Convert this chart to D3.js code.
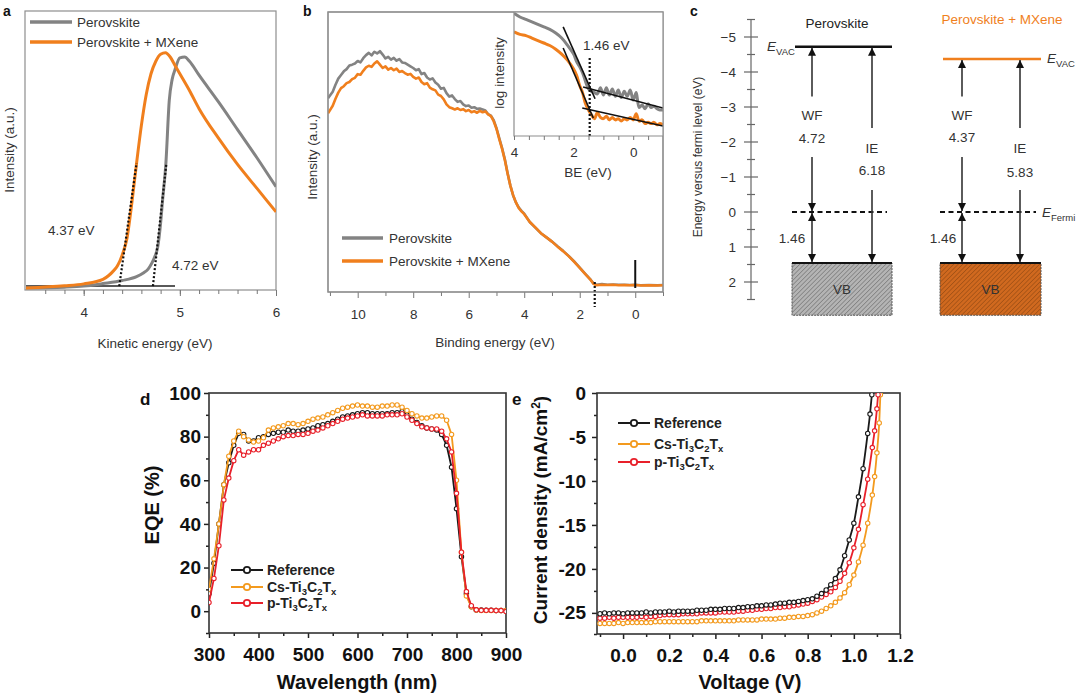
<!DOCTYPE html>
<html>
<head>
<meta charset="utf-8">
<script src="https://cdn.jsdelivr.net/npm/d3@7/dist/d3.min.js"></script>
<style>
html,body{margin:0;padding:0;background:#fff;}
svg{display:block;}
</style>
</head>
<body>
<svg id="fig" width="1080" height="697"></svg>
<script>
// ================= DATA =================
// Panel a : secondary electron cut-off  [kinetic energy (eV), intensity (a.u.)]
const aPerovskite = [[3.4,0.7],[3.8,1.0],[4.0,1.4],[4.2,2.3],[4.4,3.4],[4.55,4.8],[4.62,6.1],[4.67,7.5],[4.71,9.7],[4.74,12],[4.77,15.4],[4.80,24],[4.82,32],[4.855,45.5],[4.89,68],[4.92,75.5],[4.95,79],[5.0,83.2],[5.05,83.5],[5.1,82.0],[5.2,77],[5.4,67.5],[5.6,57.5],[5.8,47.5],[6.0,37]];
const aMXene = [[3.4,0.7],[3.8,1.5],[4.0,2.2],[4.2,3.8],[4.26,5.2],[4.30,6.5],[4.35,8.6],[4.40,12.5],[4.45,18.5],[4.50,31],[4.55,45.5],[4.60,59],[4.65,70],[4.70,77.5],[4.75,82],[4.80,84.5],[4.85,85],[4.90,83.5],[4.95,80.5],[5.0,77.5],[5.1,71.5],[5.2,65],[5.4,54.5],[5.6,45],[5.8,36.5],[6.0,28]];
const aBaseline = [[3.4,1.4],[4.95,1.4]];
const aTangentMX = [[4.37,1.4],[4.55,45.5]];
const aTangentPer = [[4.72,1.4],[4.86,45.5]];
const aTicks = [4,5,6];
const aLabels = ["4.37 eV","4.72 eV"];

// Panel b : valence band spectra  [binding energy (eV), intensity (a.u.)]
const bPerovskite = [[11.07,69.2],[10.9,71.5],[10.8,74.0],[10.7,76.2],[10.6,77.5],[10.5,78.8],[10.4,79.6],[10.3,80.9],[10.2,81.2],[10.1,81.6],[10.0,82.5],[9.9,82.0],[9.8,83.5],[9.7,84.6],[9.6,85.4],[9.5,84.5],[9.4,85.8],[9.3,85.2],[9.2,86.0],[9.1,84.8],[9.0,83.4],[8.9,84.0],[8.8,83.0],[8.7,83.6],[8.6,82.6],[8.5,83.2],[8.4,82.0],[8.3,81.8],[8.2,81.2],[8.1,80.6],[8.0,80.0],[7.9,79.2],[7.8,79.6],[7.7,77.8],[7.6,78.2],[7.5,76.6],[7.4,75.9],[7.3,76.3],[7.2,74.8],[7.1,74.0],[7.0,72.6],[6.9,72.9],[6.8,71.0],[6.7,69.8],[6.6,70.2],[6.5,68.9],[6.4,67.9],[6.3,68.2],[6.2,67.0],[6.1,66.4],[6.0,66.6],[5.9,65.8],[5.8,66.0],[5.7,65.4],[5.6,65.5],[5.5,65.2],[5.4,64.8],[5.3,63.5],[5.2,63.0],[5.1,61.4],[5.0,58.5],[4.9,55.0],[4.8,51.5],[4.7,47.5],[4.6,42.5],[4.5,38.0],[4.4,34.5],[4.3,32.0],[4.2,30.2],[4.1,29.0],[4.0,28.0],[3.8,25.0],[3.6,23.0],[3.4,21.0],[3.2,19.5],[3.0,18.0],[2.8,16.3],[2.6,14.7],[2.4,12.9],[2.2,10.9],[2.0,8.7],[1.8,6.5],[1.6,4.3],[1.5,3.0],[1.4,2.6],[1.2,2.8],[1.0,2.6],[0.8,2.7],[0.6,2.6],[0.4,2.6],[0.2,2.5],[0.0,2.6],[-0.2,2.4],[-0.5,2.5],[-0.8,2.4],[-1.0,2.5]];
const bMXene = [[11.07,63.8],[10.9,66.5],[10.8,69.0],[10.7,71.2],[10.6,72.8],[10.5,73.5],[10.4,74.6],[10.3,75.0],[10.2,76.0],[10.1,76.5],[10.0,77.8],[9.9,77.6],[9.8,79.0],[9.7,80.2],[9.6,80.8],[9.5,80.4],[9.4,81.6],[9.3,82.4],[9.2,81.2],[9.1,80.0],[9.0,80.6],[8.9,79.4],[8.8,80.0],[8.7,79.2],[8.6,79.8],[8.5,78.6],[8.4,78.9],[8.3,78.2],[8.2,77.6],[8.1,77.9],[8.0,76.8],[7.9,76.2],[7.8,76.6],[7.7,75.0],[7.6,74.2],[7.5,74.6],[7.4,73.0],[7.3,72.4],[7.2,72.0],[7.1,70.5],[7.0,70.0],[6.9,68.8],[6.8,67.0],[6.7,66.0],[6.6,65.6],[6.5,65.2],[6.4,65.6],[6.3,65.0],[6.2,65.3],[6.1,64.6],[6.0,65.0],[5.9,64.2],[5.8,64.6],[5.7,64.0],[5.6,64.7],[5.5,64.2],[5.4,64.5],[5.3,63.4],[5.2,62.8],[5.1,61.0],[5.0,58.3],[4.9,54.6],[4.8,51.2],[4.7,47.2],[4.6,42.3],[4.5,38.0],[4.4,34.6],[4.3,32.0],[4.2,30.0],[4.1,28.8],[4.0,27.8],[3.8,25.0],[3.6,23.1],[3.4,21.0],[3.2,19.5],[3.0,18.0],[2.8,16.2],[2.6,14.6],[2.4,12.8],[2.2,10.8],[2.0,8.6],[1.8,6.4],[1.6,4.2],[1.5,2.9],[1.4,2.4],[1.2,2.6],[1.0,2.5],[0.8,2.6],[0.6,2.4],[0.4,2.5],[0.2,2.4],[0.0,2.5],[-0.2,2.3],[-0.5,2.4],[-0.8,2.3],[-1.0,2.4]];
const bTicks = [10,8,6,4,2,0];
const bVBM = 1.46;
// inset : [BE (eV), log intensity (a.u.)]
const insPerovskite = [[4.0,9.9],[3.8,9.6],[3.6,9.4],[3.4,9.2],[3.2,9.0],[3.0,8.8],[2.8,8.6],[2.6,8.3],[2.4,7.9],[2.2,7.3],[2.0,6.6],[1.9,6.0],[1.8,5.6],[1.7,5.1],[1.6,4.4],[1.5,3.8],[1.4,3.6],[1.3,3.5],[1.2,3.4],[1.1,3.9],[1.0,3.3],[0.9,3.9],[0.8,3.3],[0.7,3.8],[0.6,3.2],[0.5,3.7],[0.4,3.1],[0.3,3.6],[0.2,3.2],[0.1,3.7],[0.0,2.9],[-0.1,3.5],[-0.2,2.3],[-0.3,2.5],[-0.4,2.2],[-0.5,2.6],[-0.6,2.3],[-0.7,2.4],[-0.8,2.2],[-0.9,2.1],[-1.0,2.1]];
const insMXene = [[4.0,8.4],[3.8,8.2],[3.6,8.1],[3.4,7.9],[3.2,7.7],[3.0,7.5],[2.8,7.3],[2.6,7.0],[2.4,6.6],[2.2,6.1],[2.0,5.4],[1.9,4.9],[1.8,4.1],[1.7,3.5],[1.6,2.6],[1.5,2.1],[1.4,1.7],[1.3,1.4],[1.2,1.9],[1.1,1.5],[1.0,1.4],[0.9,1.6],[0.8,1.3],[0.7,1.5],[0.6,1.3],[0.5,1.4],[0.4,1.2],[0.3,1.4],[0.2,1.3],[0.1,1.5],[0.0,1.3],[-0.1,1.8],[-0.2,1.2],[-0.3,1.3],[-0.4,1.0],[-0.5,1.1],[-0.6,1.0],[-0.7,1.1],[-0.8,0.9],[-0.9,1.0],[-1.0,0.9]];
const insFits = [[[2.35,8.8],[1.28,3.0]],[[1.68,3.95],[-1.0,2.26]],[[2.35,7.1],[1.34,1.45]],[[1.71,2.26],[-1.0,0.81]]];
const insTicks = [4,2,0];

// Panel c : energy level diagram
const cSamples = ["Perovskite","Perovskite + MXene"];
const cWF = [4.72, 4.37];
const cIE = [6.18, 5.83];
const cVBM = [1.46, 1.46];
const cVBbottom = 2.95;
const cTicks = [-5,-4,-3,-2,-1,0,1,2];

// Panel d : EQE
const wavelength = [300,310,320,330,340,350,360,370,380,390,400,410,420,430,440,450,460,470,480,490,500,510,520,530,540,550,560,570,580,590,600,610,620,630,640,650,660,670,680,690,700,710,720,730,740,750,760,770,780,790,800,810,820,830,840,850,860,870,880,890,900];
const eqeReference = [8,22,40,58,68,76,81.5,81,78,78,79.5,80,81,81.5,82,82,83,82.5,82.5,83,83.5,84,85,85.5,86,87,88,89,89.5,90,90.5,91,91,90.5,90.5,90.5,90.5,91,91,91.5,90,88,86.5,85,84,83.5,83,81,76,66,47,25,8,2,0.5,0.5,0.4,0.4,0.3,0.3,0.2];
const eqeCs = [10,24,40,58,71,78,82.5,80,78.5,77.5,78,79.5,83,84,84.5,85,86,86,85.5,86,87,88,88.5,89,90,91,92,93,93.5,94,94.5,94,94,93.5,93.5,94,94,94.5,94.5,93.5,92,90.5,89.5,88.5,88.5,89,89.5,89.5,87.5,81,60,27,7,2,0.5,0.3,0.3,0.3,0.3,0.3,0.3];
const eqeP = [4,15,30,51,61,69,74,71.5,73,74,74,76,77,78,79,80,80.5,80.5,81,81,81.5,82.5,83,84,85,86,87,88,88.5,89,89.5,90,89.5,89.5,89.5,89.5,90,90,90,90.5,89,87.5,86,84.5,84,83.5,83.5,82.5,79,73,54,27,9,2.5,0.6,0.4,0.4,0.4,0.3,0.3,-0.2];
const dXTicks = [300,400,500,600,700,800,900];
const dYTicks = [0,20,40,60,80,100];

// Panel e : J-V curves  [voltage (V), current density (mA/cm2)]
const jvReference = [[-0.10,-25.1],[-0.08,-25.0],[-0.06,-25.1],[-0.04,-25.0],[-0.02,-25.0],[0.00,-25.1],[0.02,-25.0],[0.04,-25.0],[0.06,-25.0],[0.08,-25.0],[0.10,-24.9],[0.12,-25.0],[0.14,-24.9],[0.16,-24.9],[0.18,-24.9],[0.20,-24.8],[0.22,-24.9],[0.24,-24.8],[0.26,-24.8],[0.28,-24.8],[0.30,-24.8],[0.32,-24.7],[0.34,-24.7],[0.36,-24.7],[0.38,-24.6],[0.40,-24.6],[0.42,-24.6],[0.44,-24.5],[0.46,-24.5],[0.48,-24.5],[0.50,-24.4],[0.52,-24.4],[0.54,-24.3],[0.56,-24.3],[0.58,-24.2],[0.60,-24.2],[0.62,-24.1],[0.64,-24.1],[0.66,-24.0],[0.68,-23.9],[0.70,-23.9],[0.72,-23.8],[0.74,-23.8],[0.76,-23.7],[0.78,-23.6],[0.80,-23.5],[0.82,-23.4],[0.84,-23.1],[0.86,-22.8],[0.88,-22.4],[0.90,-21.8],[0.92,-21.1],[0.94,-20.1],[0.96,-18.5],[0.98,-16.7],[1.00,-14.8],[1.02,-11.8],[1.04,-8.6],[1.06,-4.6],[1.07,-2.4],[1.078,-0.2]];
const jvCs = [[-0.10,-26.2],[-0.08,-26.2],[-0.06,-26.2],[-0.04,-26.2],[-0.02,-26.1],[0.00,-26.2],[0.02,-26.1],[0.04,-26.1],[0.06,-26.1],[0.08,-26.1],[0.10,-26.1],[0.12,-26.1],[0.14,-26.0],[0.16,-26.0],[0.18,-26.0],[0.20,-26.0],[0.22,-26.0],[0.24,-26.0],[0.26,-26.0],[0.28,-26.0],[0.30,-26.0],[0.32,-26.0],[0.34,-25.9],[0.36,-25.9],[0.38,-25.9],[0.40,-25.9],[0.42,-25.9],[0.44,-25.9],[0.46,-25.9],[0.48,-25.9],[0.50,-25.8],[0.52,-25.8],[0.54,-25.8],[0.56,-25.8],[0.58,-25.8],[0.60,-25.7],[0.62,-25.7],[0.64,-25.7],[0.66,-25.7],[0.68,-25.6],[0.70,-25.6],[0.72,-25.5],[0.74,-25.5],[0.76,-25.4],[0.78,-25.4],[0.80,-25.3],[0.82,-25.2],[0.84,-25.0],[0.86,-24.8],[0.88,-24.5],[0.90,-24.2],[0.92,-23.8],[0.94,-23.3],[0.96,-22.7],[0.98,-21.8],[1.00,-20.7],[1.02,-19.2],[1.04,-17.3],[1.06,-14.8],[1.08,-11.6],[1.09,-9.5],[1.10,-6.8],[1.11,-3.4],[1.115,-0.2]];
const jvP = [[-0.10,-25.6],[-0.08,-25.6],[-0.06,-25.5],[-0.04,-25.6],[-0.02,-25.5],[0.00,-25.5],[0.02,-25.5],[0.04,-25.5],[0.06,-25.5],[0.08,-25.4],[0.10,-25.5],[0.12,-25.4],[0.14,-25.4],[0.16,-25.3],[0.18,-25.2],[0.20,-25.2],[0.22,-25.2],[0.24,-25.2],[0.26,-25.1],[0.28,-25.1],[0.30,-25.1],[0.32,-25.1],[0.34,-25.0],[0.36,-25.0],[0.38,-25.0],[0.40,-25.0],[0.42,-24.9],[0.44,-24.9],[0.46,-24.9],[0.48,-24.9],[0.50,-24.8],[0.52,-24.8],[0.54,-24.7],[0.56,-24.7],[0.58,-24.6],[0.60,-24.6],[0.62,-24.5],[0.64,-24.5],[0.66,-24.4],[0.68,-24.4],[0.70,-24.3],[0.72,-24.3],[0.74,-24.2],[0.76,-24.1],[0.78,-24.0],[0.80,-23.9],[0.82,-23.7],[0.84,-23.5],[0.86,-23.2],[0.88,-22.9],[0.90,-22.6],[0.92,-22.1],[0.94,-21.4],[0.96,-20.5],[0.98,-19.3],[1.00,-17.6],[1.02,-15.5],[1.04,-12.7],[1.06,-9.8],[1.08,-6.2],[1.09,-4.3],[1.10,-1.8],[1.105,-0.2]];
const eXTicks = [0.0,0.2,0.4,0.6,0.8,1.0,1.2];
const eYTicks = [0,-5,-10,-15,-20,-25];

// ================= STYLE =================
const F = '"Liberation Sans", Arial, Helvetica, sans-serif';
const TXT = "#333";
const GREY = "#838383";
const ORANGE = "#f07f1d";
const C_REF = "#1a1a1a", C_CS = "#f39a1e", C_P = "#e8202a";

const svg = d3.select("#fig");
const defs = svg.append("defs");

function txt(g, x, y, s, o = {}) {
  return g.append("text").attr("x", x).attr("y", y).text(s)
    .attr("font-family", F).attr("font-size", o.size || 13.5)
    .attr("font-weight", o.bold ? "bold" : "normal")
    .attr("fill", o.fill || TXT)
    .attr("text-anchor", o.anchor || "start");
}
function styleAxis(g, col, size, bold, tw) {
  g.select(".domain").remove();
  g.selectAll(".tick line").attr("stroke", col).attr("stroke-width", tw || 1);
  g.selectAll(".tick text").attr("font-family", F).attr("font-size", size)
    .attr("font-weight", bold ? "bold" : "normal").attr("fill", bold ? "#111" : TXT);
}
function clip(id, x0, y0, x1, y1) {
  defs.append("clipPath").attr("id", id).append("rect")
    .attr("x", x0).attr("y", y0).attr("width", x1 - x0).attr("height", y1 - y0);
}

// ================= PANEL a =================
{
  const x = d3.scaleLinear().domain([3.4, 6]).range([26, 276]);
  const y = d3.scaleLinear().domain([0, 100]).range([290, 11]);
  const g = svg.append("g");
  txt(g, 3, 16, "a", {bold: true, size: 14, fill: "#111"});
  g.append("rect").attr("x", x(3.4) - 1).attr("y", y(100)).attr("width", x(6) - x(3.4) + 1).attr("height", y(0) - y(100))
    .attr("fill", "none").attr("stroke", "#8e8e8e").attr("stroke-width", 1.2);
  g.append("g").attr("transform", `translate(0,${y(0)})`)
    .call(d3.axisBottom(x).tickValues(aTicks).tickFormat(d3.format("d")).tickSize(6).tickPadding(11).tickSizeOuter(0))
    .call(a => styleAxis(a, "#777", 13.5));
  g.append("g").attr("transform", `translate(0,${y(0)})`)
    .call(d3.axisBottom(x).tickValues(d3.range(3.6, 6, 0.2)).tickFormat("").tickSize(4).tickSizeOuter(0))
    .call(a => styleAxis(a, "#777", 12));
  clip("clipA", x(3.4), y(100), x(6), y(0));
  const line = d3.line().x(d => x(d[0])).y(d => y(d[1])).curve(d3.curveMonotoneX);
  const pg = g.append("g").attr("clip-path", "url(#clipA)");
  pg.append("path").datum(aBaseline).attr("d", d3.line().x(d => x(d[0])).y(d => y(d[1])))
    .attr("stroke", "#222").attr("stroke-width", 1.5).attr("fill", "none");
  pg.append("path").datum(aPerovskite).attr("d", line).attr("stroke", GREY).attr("stroke-width", 3).attr("fill", "none");
  pg.append("path").datum(aMXene).attr("d", line).attr("stroke", ORANGE).attr("stroke-width", 3).attr("fill", "none");
  [aTangentMX, aTangentPer].forEach(t => {
    pg.append("path").datum(t).attr("d", d3.line().x(d => x(d[0])).y(d => y(d[1])))
      .attr("stroke", "#111").attr("stroke-width", 2.2).attr("stroke-dasharray", "2,2").attr("fill", "none");
  });
  // legend
  g.append("line").attr("x1", 30).attr("x2", 72).attr("y1", 22).attr("y2", 22).attr("stroke", GREY).attr("stroke-width", 3.5);
  g.append("line").attr("x1", 30).attr("x2", 72).attr("y1", 42).attr("y2", 42).attr("stroke", ORANGE).attr("stroke-width", 3.5);
  txt(g, 77, 27, "Perovskite");
  txt(g, 77, 47, "Perovskite + MXene");
  txt(g, 48, 235, aLabels[0]);
  txt(g, 172, 270, aLabels[1]);
  txt(g, (x(3.4) + x(6)) / 2 + 4, 348, "Kinetic energy (eV)", {anchor: "middle"});
  txt(g, 0, 0, "Intensity (a.u.)", {anchor: "middle"}).attr("transform", "translate(14,150) rotate(-90)");
}

// ================= PANEL b =================
{
  const x = d3.scaleLinear().domain([11.07, -1]).range([328, 663]);
  const y = d3.scaleLinear().domain([0, 100]).range([292, 12]);
  const g = svg.append("g");
  txt(g, 303, 16, "b", {bold: true, size: 14, fill: "#111"});
  g.append("rect").attr("x", 328).attr("y", 12).attr("width", 335).attr("height", 280)
    .attr("fill", "none").attr("stroke", "#8e8e8e").attr("stroke-width", 1.2);
  g.append("g").attr("transform", `translate(0,${y(0)})`)
    .call(d3.axisBottom(x).tickValues(bTicks).tickFormat(d3.format("d")).tickSize(6).tickPadding(11).tickSizeOuter(0))
    .call(a => styleAxis(a, "#777", 13.5));
  g.append("g").attr("transform", `translate(0,${y(0)})`)
    .call(d3.axisBottom(x).tickValues([11, 9, 7, 5, 3, 1, -1]).tickFormat("").tickSize(4).tickSizeOuter(0))
    .call(a => styleAxis(a, "#777", 12));
  clip("clipB", 328, 12, 663, 292);
  const line = d3.line().x(d => x(d[0])).y(d => y(d[1]));
  const pg = g.append("g").attr("clip-path", "url(#clipB)");
  pg.append("path").datum(bPerovskite).attr("d", line).attr("stroke", GREY).attr("stroke-width", 2.6).attr("fill", "none").attr("stroke-linejoin", "round");
  pg.append("path").datum(bMXene).attr("d", line).attr("stroke", ORANGE).attr("stroke-width", 2.6).attr("fill", "none").attr("stroke-linejoin", "round");
  // VBM dotted marker and zero marker
  g.append("line").attr("x1", x(bVBM)).attr("x2", x(bVBM)).attr("y1", 282).attr("y2", 307)
    .attr("stroke", "#111").attr("stroke-width", 2.2).attr("stroke-dasharray", "2,2");
  g.append("line").attr("x1", x(0)).attr("x2", x(0)).attr("y1", 260).attr("y2", 288)
    .attr("stroke", "#111").attr("stroke-width", 2);
  // legend
  g.append("line").attr("x1", 342).attr("x2", 383).attr("y1", 238).attr("y2", 238).attr("stroke", GREY).attr("stroke-width", 3.5);
  g.append("line").attr("x1", 342).attr("x2", 383).attr("y1", 261).attr("y2", 261).attr("stroke", ORANGE).attr("stroke-width", 3.5);
  txt(g, 389, 243, "Perovskite");
  txt(g, 389, 266, "Perovskite + MXene");
  txt(g, 495, 347, "Binding energy (eV)", {anchor: "middle"});
  txt(g, 0, 0, "Intensity (a.u.)", {anchor: "middle"}).attr("transform", "translate(317,157) rotate(-90)");

  // ---- inset
  const xi = d3.scaleLinear().domain([4, -1]).range([514, 663]);
  const yi = d3.scaleLinear().domain([0, 10]).range([136, 12]);
  const gi = g.append("g");
  gi.append("rect").attr("x", 514).attr("y", 12).attr("width", 149).attr("height", 124).attr("fill", "#fff");
  clip("clipI", 514, 12, 663, 136);
  const ip = gi.append("g").attr("clip-path", "url(#clipI)");
  const il = d3.line().x(d => xi(d[0])).y(d => yi(d[1]));
  ip.append("path").datum(insPerovskite).attr("d", il.curve(d3.curveCatmullRom)).attr("stroke", GREY).attr("stroke-width", 3).attr("fill", "none");
  ip.append("path").datum(insMXene).attr("d", il).attr("stroke", ORANGE).attr("stroke-width", 3).attr("fill", "none");
  insFits.forEach(f => ip.append("path").datum(f).attr("d", d3.line().x(d => xi(d[0])).y(d => yi(d[1])))
    .attr("stroke", "#111").attr("stroke-width", 1.6).attr("fill", "none"));
  gi.append("line").attr("x1", xi(bVBM)).attr("x2", xi(bVBM)).attr("y1", 58).attr("y2", 137)
    .attr("stroke", "#111").attr("stroke-width", 2.2).attr("stroke-dasharray", "2,2");
  gi.append("path").attr("d", "M514,12V136H663").attr("stroke", "#8e8e8e").attr("stroke-width", 1.2).attr("fill", "none");
  gi.append("rect").attr("x", 328).attr("y", 12).attr("width", 335).attr("height", 280)
    .attr("fill", "none").attr("stroke", "#8e8e8e").attr("stroke-width", 1.2);
  gi.append("g").attr("transform", "translate(0,136)")
    .call(d3.axisBottom(xi).tickValues(insTicks).tickFormat(d3.format("d")).tickSize(4).tickPadding(7).tickSizeOuter(0))
    .call(a => styleAxis(a, "#777", 13.5));
  gi.append("g").attr("transform", "translate(0,136)")
    .call(d3.axisBottom(xi).tickValues([3.5, 3, 2.5, 1.5, 1, 0.5, -0.5]).tickFormat("").tickSize(4).tickSizeOuter(0))
    .call(a => styleAxis(a, "#777", 12));
  txt(gi, 588, 177, "BE (eV)", {anchor: "middle"});
  txt(gi, 0, 0, "log intensity", {anchor: "middle"}).attr("transform", "translate(504,73) rotate(-90)");
  txt(gi, 583, 50, "1.46 eV");
}

// ================= PANEL c =================
{
  const y = d3.scaleLinear().domain([-5.5, 2.5]).range([19.5, 299.5]);
  const g = svg.append("g");
  txt(g, 690, 16, "c", {bold: true, size: 14, fill: "#111"});
  const ax = 751;
  g.append("line").attr("x1", ax).attr("x2", ax).attr("y1", y(-5.5)).attr("y2", y(2.5)).attr("stroke", "#666").attr("stroke-width", 1.2);
  g.selectAll(".cmaj").data(cTicks).join("line").attr("x1", ax - 7).attr("x2", ax + 7)
    .attr("y1", d => y(d)).attr("y2", d => y(d)).attr("stroke", "#666").attr("stroke-width", 1.2);
  g.selectAll(".cmin").data(d3.range(-5.5, 2.51, 1)).join("line").attr("x1", ax - 4).attr("x2", ax + 4)
    .attr("y1", d => y(d)).attr("y2", d => y(d)).attr("stroke", "#666").attr("stroke-width", 1.2);
  g.selectAll(".clab").data(cTicks).join("text").attr("x", 736).attr("y", d => y(d) + 5)
    .attr("text-anchor", "end").attr("font-family", F).attr("font-size", 13.5).attr("fill", TXT)
    .text(d => d < 0 ? "\u2212" + Math.abs(d) : d);
  txt(g, 0, 0, "Energy versus fermi level (eV)", {anchor: "middle", size: 12}).attr("transform", "translate(702,157) rotate(-90)");

  // arrow marker
  const mk = defs.append("marker").attr("id", "arr").attr("viewBox", "0 0 10 10").attr("refX", 10).attr("refY", 5)
    .attr("markerWidth", 9).attr("markerHeight", 8).attr("markerUnits", "userSpaceOnUse").attr("orient", "auto-start-reverse");
  mk.append("path").attr("d", "M0,0L10,5L0,10z").attr("fill", "#111");
  // hatch patterns
  function hatch(id, bg, fg) {
    const p = defs.append("pattern").attr("id", id).attr("width", 3.2).attr("height", 3.2)
      .attr("patternUnits", "userSpaceOnUse").attr("patternTransform", "rotate(45)");
    p.append("rect").attr("width", 3.2).attr("height", 3.2).attr("fill", bg);
    p.append("line").attr("x1", 0).attr("y1", 0).attr("x2", 0).attr("y2", 3.2).attr("stroke", fg).attr("stroke-width", 1.1);
  }
  hatch("hG", "#b4b4b4", "#6a6a6a");
  hatch("hO", "#d0691f", "#8f4712");

  const cols = [
    {x0: 792, x1: 892, wf: 812, ie: 872, color: "#111", fill: "url(#hG)", title: 837, tcol: "#222", lab146: 792},
    {x0: 940, x1: 1041, wf: 962, ie: 1020, color: ORANGE, fill: "url(#hO)", title: 1002, tcol: ORANGE, lab146: 943}
  ];
  function seg(x, y1, y2, start, end) {
    const l = g.append("line").attr("x1", x).attr("x2", x).attr("y1", y1).attr("y2", y2).attr("stroke", "#333").attr("stroke-width", 1.6);
    if (start) l.attr("marker-start", "url(#arr)");
    if (end) l.attr("marker-end", "url(#arr)");
  }
  cols.forEach((c, i) => {
    const evac = -cWF[i], vbm = cVBM[i];
    txt(g, c.title, i === 0 ? 28 : 24, cSamples[i], {anchor: "middle", fill: c.tcol, size: 13.5});
    // VB box
    g.append("rect").attr("x", c.x0).attr("y", y(vbm)).attr("width", c.x1 - c.x0).attr("height", y(cVBbottom) - y(vbm))
      .attr("fill", c.fill).attr("stroke", "#555").attr("stroke-width", 1).attr("stroke-dasharray", "2,1");
    g.append("line").attr("x1", c.x0).attr("x2", c.x1).attr("y1", y(vbm)).attr("y2", y(vbm)).attr("stroke", "#111").attr("stroke-width", 2);
    txt(g, (c.x0 + c.x1) / 2, y(vbm) + 31, "VB", {anchor: "middle", size: 13.5, fill: "#333"});
    // vacuum level
    g.append("line").attr("x1", c.x0 + 3).attr("x2", c.x1).attr("y1", y(evac)).attr("y2", y(evac)).attr("stroke", c.color).attr("stroke-width", 2.6);
    // Fermi level
    g.append("line").attr("x1", c.x0).attr("x2", c.x1 - 5).attr("y1", y(0)).attr("y2", y(0))
      .attr("stroke", "#111").attr("stroke-width", 2).attr("stroke-dasharray", "5,3.5");
    // WF arrow
    seg(c.wf, y(-3.3), y(evac) + 1, false, true);
    seg(c.wf, y(-1.57), y(0) - 1, false, true);
    seg(c.wf, y(0) + 1, y(vbm) - 1, true, true);
    txt(g, c.wf, y(-2.77) + 5, "WF", {anchor: "middle"});
    txt(g, c.wf, y(i === 0 ? -2.11 : -2.15) + 5, d3.format(".2f")(cWF[i]), {anchor: "middle"});
    // IE arrow
    seg(c.ie, y(-2.4), y(evac) + 1, false, true);
    seg(c.ie, y(-0.63), y(vbm) - 1, false, true);
    txt(g, c.ie, y(-1.83) + 5, "IE", {anchor: "middle"});
    txt(g, c.ie, y(i === 0 ? -1.2 : -1.14) + 5, d3.format(".2f")(cIE[i]), {anchor: "middle"});
    txt(g, c.lab146, y(0.74) + 5, d3.format(".2f")(vbm), {anchor: "middle"});
  });
  function eLab(x, yy, sub) {
    const t = txt(g, x, yy, "", {size: 13.5});
    t.append("tspan").attr("font-style", "italic").text("E");
    t.append("tspan").attr("font-size", 9.5).attr("dy", 4).text(sub);
  }
  eLab(767, y(-4.72) + 4, "VAC");
  eLab(1047, y(-4.37) + 4, "VAC");
  eLab(1042, y(0) + 5, "Fermi");
}

// ================= PANEL d =================
function seriesLegend(g, x0, yy, col, parts) {
  g.append("line").attr("x1", x0).attr("x2", x0 + 32).attr("y1", yy).attr("y2", yy).attr("stroke", col).attr("stroke-width", 2);
  g.append("circle").attr("cx", x0 + 16).attr("cy", yy).attr("r", 3.2).attr("fill", "#fff").attr("stroke", col).attr("stroke-width", 1.8);
  const t = txt(g, x0 + 36, yy + 5, "", {bold: true, size: 14, fill: "#222"});
  parts.forEach(p => {
    const s = t.append("tspan").text(p[0]);
    if (p[1] === "sub") s.attr("font-size", 9.5).attr("baseline-shift", "-30%");
  });
}
const nameRef = [["Reference"]];
const nameCs = [["Cs-Ti"], ["3", "sub"], ["C"], ["2", "sub"], ["T"], ["x", "sub"]];
const nameP = [["p-Ti"], ["3", "sub"], ["C"], ["2", "sub"], ["T"], ["x", "sub"]];
{
  const x = d3.scaleLinear().domain([300, 900]).range([209, 506]);
  const y = d3.scaleLinear().domain([-10, 100]).range([633, 393]);
  const g = svg.append("g");
  txt(g, 140, 405, "d", {bold: true, size: 17, fill: "#111"});
  g.append("g").attr("transform", "translate(0,633)")
    .call(d3.axisBottom(x).tickValues(dXTicks).tickFormat(d3.format("d")).tickSize(5).tickPadding(10).tickSizeOuter(0))
    .call(a => styleAxis(a, "#222", 19, true, 1.5));
  g.append("g").attr("transform", "translate(0,633)")
    .call(d3.axisBottom(x).tickValues([350, 450, 550, 650, 750, 850]).tickFormat("").tickSize(3).tickSizeOuter(0))
    .call(a => styleAxis(a, "#222", 12, true, 1.5));
  g.append("g").attr("transform", "translate(209,0)")
    .call(d3.axisLeft(y).tickValues(dYTicks).tickFormat(d3.format("d")).tickSize(5).tickPadding(3).tickSizeOuter(0))
    .call(a => styleAxis(a, "#222", 19, true, 1.5));
  g.append("g").attr("transform", "translate(209,0)")
    .call(d3.axisLeft(y).tickValues([-10, 10, 30, 50, 70, 90]).tickFormat("").tickSize(3).tickSizeOuter(0))
    .call(a => styleAxis(a, "#222", 12, true, 1.5));
  g.append("rect").attr("x", 209).attr("y", 393).attr("width", 297).attr("height", 240)
    .attr("fill", "none").attr("stroke", "#333").attr("stroke-width", 1.6);
  clip("clipD", 209, 393, 506, 633);
  const pg = g.append("g").attr("clip-path", "url(#clipD)");
  const line = d3.line().x(d => x(d[0])).y(d => y(d[1]));
  [[eqeReference, C_REF], [eqeCs, C_CS], [eqeP, C_P]].forEach(([vals, col]) => {
    const pts = wavelength.map((w, i) => [w, vals[i]]);
    pg.append("path").datum(pts).attr("d", line).attr("stroke", col).attr("stroke-width", 1.8).attr("fill", "none");
    pg.selectAll(null).data(pts).join("circle").attr("cx", d => x(d[0])).attr("cy", d => y(d[1])).attr("r", 2.2)
      .attr("fill", "#fff").attr("stroke", col).attr("stroke-width", 1.1);
  });
  seriesLegend(g, 231, 570, C_REF, nameRef);
  seriesLegend(g, 231, 587, C_CS, nameCs);
  seriesLegend(g, 231, 603, C_P, nameP);
  txt(g, 357, 689, "Wavelength (nm)", {anchor: "middle", bold: true, size: 20, fill: "#111"});
  txt(g, 0, 0, "EQE (%)", {anchor: "middle", bold: true, size: 20, fill: "#111"}).attr("transform", "translate(159,505) rotate(-90)");
}

// ================= PANEL e =================
{
  const x = d3.scaleLinear().domain([-0.113, 1.2]).range([597, 900]);
  const y = d3.scaleLinear().domain([-27.4, 0]).range([634, 393]);
  const g = svg.append("g");
  g.append("g").attr("transform", "translate(0,634)")
    .call(d3.axisBottom(x).tickValues(eXTicks).tickFormat(d3.format(".1f")).tickSize(5).tickPadding(10).tickSizeOuter(0))
    .call(a => styleAxis(a, "#222", 19, true, 1.5));
  g.append("g").attr("transform", "translate(0,634)")
    .call(d3.axisBottom(x).tickValues([-0.1, 0.1, 0.3, 0.5, 0.7, 0.9, 1.1]).tickFormat("").tickSize(3).tickSizeOuter(0))
    .call(a => styleAxis(a, "#222", 12, true, 1.5));
  g.append("g").attr("transform", "translate(597,0)")
    .call(d3.axisLeft(y).tickValues(eYTicks).tickFormat(d3.format("d")).tickSize(5).tickPadding(6).tickSizeOuter(0))
    .call(a => styleAxis(a, "#222", 19, true, 1.5));
  g.append("g").attr("transform", "translate(597,0)")
    .call(d3.axisLeft(y).tickValues([-2.5, -7.5, -12.5, -17.5, -22.5, -27.4]).tickFormat("").tickSize(3).tickSizeOuter(0))
    .call(a => styleAxis(a, "#222", 12, true, 1.5));
  g.selectAll(".tick text").text(function () { return this.textContent.replace("\u2212", "-"); });
  g.append("rect").attr("x", 597).attr("y", 393).attr("width", 303).attr("height", 241)
    .attr("fill", "none").attr("stroke", "#333").attr("stroke-width", 1.6);
  clip("clipE", 597, 393, 900, 634);
  const pg = g.append("g").attr("clip-path", "url(#clipE)");
  const line = d3.line().x(d => x(d[0])).y(d => y(d[1])).curve(d3.curveMonotoneX);
  [[jvCs, C_CS], [jvP, C_P], [jvReference, C_REF]].forEach(([pts, col]) => {
    pg.append("path").datum(pts).attr("d", line).attr("stroke", col).attr("stroke-width", 1.8).attr("fill", "none");
    pg.selectAll(null).data(pts).join("circle").attr("cx", d => x(d[0])).attr("cy", d => y(d[1])).attr("r", 2.2)
      .attr("fill", "#fff").attr("stroke", col).attr("stroke-width", 1.1);
  });
  seriesLegend(g, 618, 423, C_REF, nameRef);
  seriesLegend(g, 618, 444, C_CS, nameCs);
  seriesLegend(g, 618, 462, C_P, nameP);
  txt(g, 750, 689, "Voltage (V)", {anchor: "middle", bold: true, size: 20, fill: "#111"});
  const t = txt(g, 0, 0, "", {anchor: "middle", bold: true, size: 19, fill: "#111"}).attr("transform", "translate(547,510) rotate(-90)");
  t.append("tspan").text("Current density (mA/cm");
  t.append("tspan").attr("font-size", 12).attr("baseline-shift", "super").text("2");
  t.append("tspan").text(")");
  txt(g, 512, 405, "e", {bold: true, size: 17, fill: "#111"});
}
</script>
</body>
</html>
